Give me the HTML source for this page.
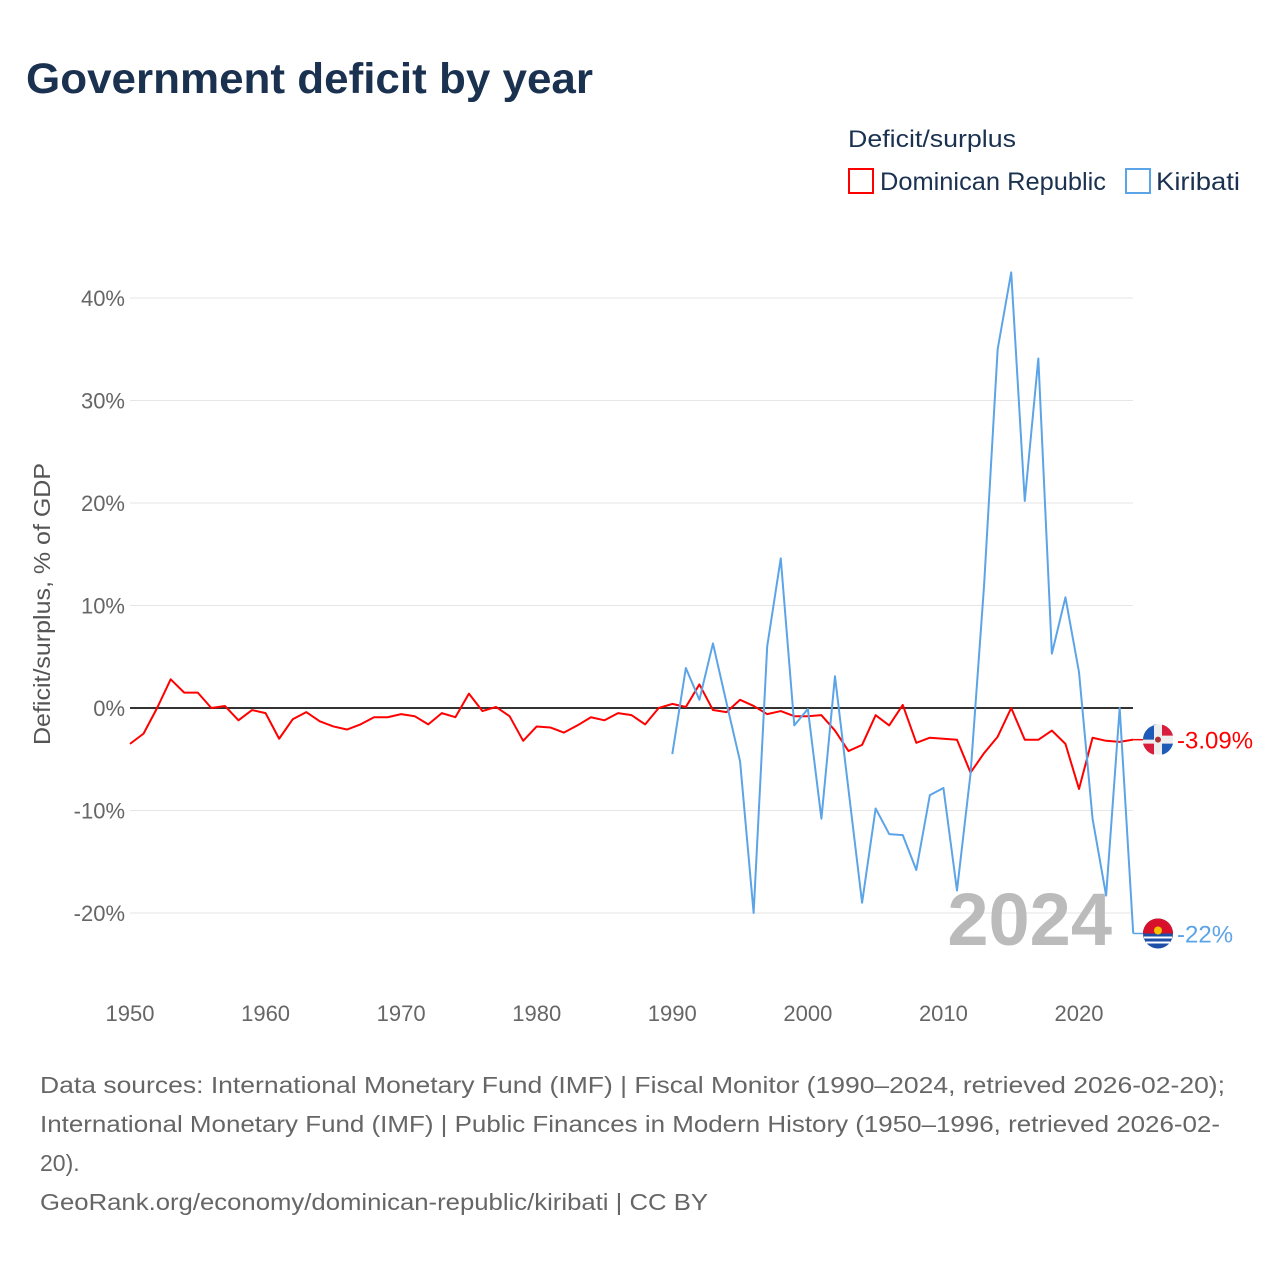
<!DOCTYPE html>
<html><head><meta charset="utf-8"><style>
body{margin:0;background:#fff;font-family:"Liberation Sans",sans-serif;}
svg text{font-family:"Liberation Sans",sans-serif;}
</style></head><body>
<svg id="chart" width="1280" height="1280" viewBox="0 0 1280 1280" xmlns="http://www.w3.org/2000/svg">
<rect width="1280" height="1280" fill="#fff"/>
<text x="26" y="93" font-size="43" font-weight="bold" fill="#1a3150" textLength="567" lengthAdjust="spacingAndGlyphs">Government deficit by year</text>
<text x="848" y="147" font-size="24" fill="#1a3150" textLength="168" lengthAdjust="spacingAndGlyphs">Deficit/surplus</text>
<g>
<rect x="849" y="169" width="24" height="24" fill="none" stroke="#ff0000" stroke-width="2"/>
<text x="880" y="190" font-size="25" fill="#1a3150" textLength="226" lengthAdjust="spacingAndGlyphs">Dominican Republic</text></g>
<g>
<rect x="1126" y="169" width="24" height="24" fill="none" stroke="#5ba4e8" stroke-width="2"/>
<text x="1156" y="190" font-size="25" fill="#1a3150" textLength="84" lengthAdjust="spacingAndGlyphs">Kiribati</text></g>
<text transform="translate(50,604) rotate(-90)" text-anchor="middle" font-size="23" fill="#555" textLength="282" lengthAdjust="spacingAndGlyphs">Deficit/surplus, % of GDP</text>
<g id="grid"></g><g id="series"></g>
<text x="1112" y="945" text-anchor="end" font-size="74" font-weight="bold" fill="#bbbbbb">2024</text>
<g id="ends"></g>
<g font-size="23" fill="#666">
<text x="40" y="1093" textLength="1185" lengthAdjust="spacingAndGlyphs">Data sources: International Monetary Fund (IMF) | Fiscal Monitor (1990–2024, retrieved 2026-02-20);</text>
<text x="40" y="1132" textLength="1180" lengthAdjust="spacingAndGlyphs">International Monetary Fund (IMF) | Public Finances in Modern History (1950–1996, retrieved 2026-02-</text>
<text x="40" y="1171">20).</text>
<text x="40" y="1210" textLength="668" lengthAdjust="spacingAndGlyphs">GeoRank.org/economy/dominican-republic/kiribati | CC BY</text>
</g>
</svg>
<script>
const yTicks=[-20,-10,0,10,20,30,40];
const xTicks=[1950,1960,1970,1980,1990,2000,2010,2020];
const drYears=[];for(let y=1950;y<=2024;y++)drYears.push(y);
const drValues=[-3.5,-2.5,0,2.8,1.5,1.5,0,0.2,-1.2,-0.2,-0.5,-3,-1.1,-0.4,-1.3,-1.8,-2.1,-1.6,-0.9,-0.9,-0.6,-0.8,-1.6,-0.5,-0.9,1.4,-0.3,0.1,-0.8,-3.2,-1.8,-1.9,-2.4,-1.7,-0.9,-1.2,-0.5,-0.7,-1.6,0,0.4,0.1,2.3,-0.2,-0.4,0.8,0.2,-0.6,-0.3,-0.8,-0.8,-0.7,-2.2,-4.2,-3.6,-0.7,-1.7,0.3,-3.4,-2.9,-3,-3.1,-6.3,-4.4,-2.8,0,-3.1,-3.1,-2.2,-3.5,-7.9,-2.9,-3.2,-3.3,-3.09];
const kiYears=[];for(let y=1990;y<=2024;y++)kiYears.push(y);
const kiValues=[-4.5,3.9,0.8,6.3,0.5,-5.2,-20,6,14.6,-1.7,-0.1,-10.8,3.1,-8,-19,-9.8,-12.3,-12.4,-15.8,-8.5,-7.8,-17.8,-6.4,12,35,42.5,20.2,34.1,5.3,10.8,3.5,-10.8,-18.3,0,-22];
const ns="http://www.w3.org/2000/svg";
const X=y=>130+(y-1950)*(1079-130)/70;
const Y=v=>708-v*10.25;
function mk(t,a,p){const e=document.createElementNS(ns,t);for(const k in a)e.setAttribute(k,a[k]);p.appendChild(e);return e;}
const grid=document.getElementById('grid');
yTicks.forEach(v=>{
 const l=mk('line',{x1:130,x2:1133,y1:Y(v),y2:Y(v),stroke:v===0?'#333':'#e6e6e6','stroke-width':v===0?2:1},grid);
 
 
 const t=mk('text',{x:125,y:Y(v)+8,'text-anchor':'end','font-size':22,fill:'#666'},grid);
 t.textContent=v+'%';
 
 
});
xTicks.forEach(y=>{
 const t=mk('text',{x:X(y),y:1021,'text-anchor':'middle','font-size':22,fill:'#666'},grid);
 t.textContent=y;
 
 
});
const s=document.getElementById('series');
const p1=mk('polyline',{points:drYears.map((y,i)=>X(y)+','+Y(drValues[i])).join(' '),fill:'none',stroke:'#ff0000','stroke-width':2,'stroke-linejoin':'round'},s);


const p2=mk('polyline',{points:kiYears.map((y,i)=>X(y)+','+Y(kiValues[i])).join(' '),fill:'none',stroke:'#5ba4e8','stroke-width':2,'stroke-linejoin':'round'},s);


const ends=document.getElementById('ends');
function endLabel(val,col,name,txt,flag){
 const yy=Y(val),x0=X(2024);
 const g=mk('g',{},ends);
 
 
 mk('line',{x1:x0,x2:1144,y1:yy,y2:yy,stroke:col,'stroke-width':1.5},g);
 if(flag==='dr'){
  mk('circle',{cx:1158,cy:yy,r:15,fill:'#eee'},g);
  mk('path',{d:`M1158 ${yy-15} A15 15 0 0 0 1143 ${yy} L1154 ${yy} L1154 ${yy-15}Z`,fill:'#1e5bb8'},g);
  mk('path',{d:`M1162 ${yy-15} A15 15 0 0 1 1173 ${yy-4} L1162 ${yy-4}Z`,fill:'#d81e3c'},g);
  mk('path',{d:`M1143 ${yy+4} A15 15 0 0 0 1154 ${yy+15} L1154 ${yy+4}Z`,fill:'#d81e3c'},g);
  mk('path',{d:`M1162 ${yy+4} L1173 ${yy+4} A15 15 0 0 1 1162 ${yy+15}Z`,fill:'#1e5bb8'},g);
  mk('circle',{cx:1158,cy:yy,r:3,fill:'#a33'},g);
 } else {
  mk('circle',{cx:1158,cy:yy,r:15,fill:'#1e4fa8'},g);
  mk('path',{d:`M1143 ${yy} A15 15 0 0 1 1173 ${yy}Z`,fill:'#d8102c'},g);
  mk('circle',{cx:1158,cy:yy-3,r:4,fill:'#f5c000'},g);
  mk('line',{x1:1144,x2:1172,y1:yy+4,y2:yy+4,stroke:'#fff','stroke-width':2},g);
  mk('line',{x1:1146,x2:1170,y1:yy+9,y2:yy+9,stroke:'#fff','stroke-width':2},g);
 }
 const t=mk('text',{x:1177,y:yy+9,'font-size':24,fill:col},g);
 t.textContent=txt;
}
endLabel(drValues[drValues.length-1],'#ff0000','dominican-republic-end-label','-3.09%','dr');
endLabel(kiValues[kiValues.length-1],'#5ba4e8','kiribati-end-label','-22%','ki');
</script>
</body></html>
